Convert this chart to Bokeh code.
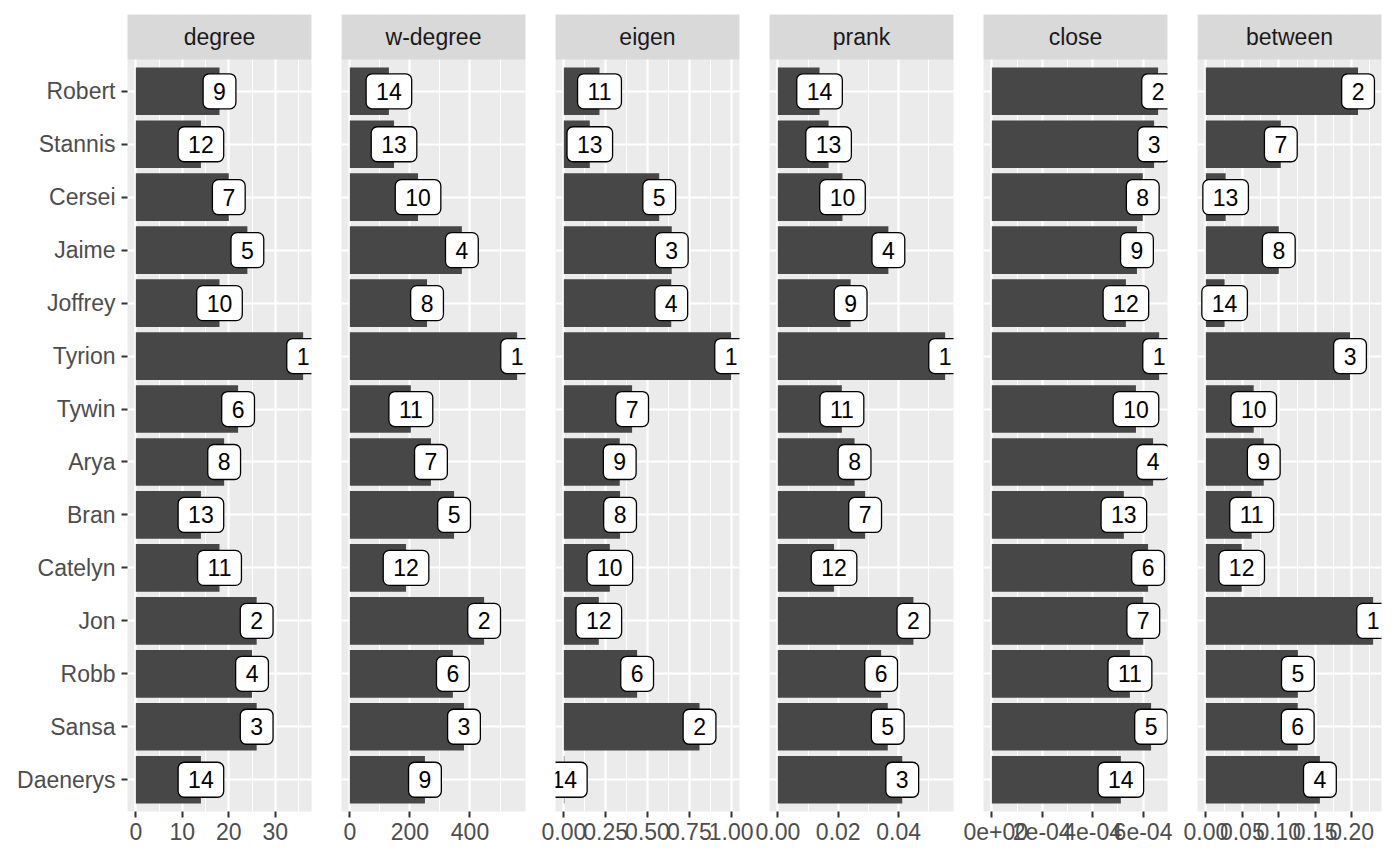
import numpy as np
from bokeh.plotting import figure
from bokeh.layouts import row
from bokeh.models import Range1d, FixedTicker
from bokeh.core.properties import value
from bokeh.embed import file_html
from bokeh.resources import INLINE

# ---------------- data ----------------
characters = ["Robert", "Stannis", "Cersei", "Jaime", "Joffrey", "Tyrion", "Tywin",
              "Arya", "Bran", "Catelyn", "Jon", "Robb", "Sansa", "Daenerys"]
panel_names = ["degree", "w-degree", "eigen", "prank", "close", "between"]

degree = [18, 14, 20, 24, 18, 36, 22, 19, 14, 18, 26, 25, 26, 14]
degree_rank = [9, 12, 7, 5, 10, 1, 6, 8, 13, 11, 2, 4, 3, 14]

wdegree = [130, 147, 227, 373, 257, 557, 203, 270, 347, 187, 447, 343, 380, 250]
wdegree_rank = [14, 13, 10, 4, 8, 1, 11, 7, 5, 12, 2, 6, 3, 9]

eigen = [0.213, 0.155, 0.570, 0.645, 0.642, 1.0, 0.408, 0.334, 0.336, 0.275, 0.209, 0.438, 0.811, 0.003]
eigen_rank = [11, 13, 5, 3, 4, 1, 7, 9, 8, 10, 12, 6, 2, 14]

prank = [0.0138, 0.0168, 0.0214, 0.0366, 0.0241, 0.0554, 0.0212, 0.0254, 0.0289, 0.0186,
         0.0449, 0.0342, 0.0364, 0.0412]
prank_rank = [14, 13, 10, 4, 9, 1, 11, 8, 7, 12, 2, 6, 5, 3]

close = [6.60e-4, 6.44e-4, 5.99e-4, 5.76e-4, 5.32e-4, 6.64e-4, 5.72e-4, 6.40e-4, 5.24e-4,
         6.20e-4, 6.01e-4, 5.48e-4, 6.32e-4, 5.12e-4]
close_rank = [2, 3, 8, 9, 12, 1, 10, 4, 13, 6, 7, 11, 5, 14]

between = [0.2087, 0.1028, 0.0271, 0.1000, 0.0257, 0.1977, 0.0656, 0.0794, 0.0628, 0.0491,
           0.2294, 0.1262, 0.1260, 0.1564]
between_rank = [2, 7, 13, 8, 14, 3, 10, 9, 11, 12, 1, 5, 6, 4]

degree_ticks = [0, 10, 20, 30]
degree_labels = ["0", "10", "20", "30"]
wdegree_ticks = [0, 200, 400]
wdegree_labels = ["0", "200", "400"]
eigen_ticks = [0.0, 0.25, 0.5, 0.75, 1.0]
eigen_labels = ["0.00", "0.25", "0.50", "0.75", "1.00"]
prank_ticks = [0.0, 0.02, 0.04]
prank_labels = ["0.00", "0.02", "0.04"]
close_ticks = [0.0, 2e-4, 4e-4, 6e-4]
close_labels = ["0e+00", "2e-04", "4e-04", "6e-04"]
between_ticks = [0.0, 0.05, 0.10, 0.15, 0.20]
between_labels = ["0.00", "0.05", "0.10", "0.15", "0.20"]

panels = [
    (panel_names[0], degree, degree_rank, degree_ticks, degree_labels),
    (panel_names[1], wdegree, wdegree_rank, wdegree_ticks, wdegree_labels),
    (panel_names[2], eigen, eigen_rank, eigen_ticks, eigen_labels),
    (panel_names[3], prank, prank_rank, prank_ticks, prank_labels),
    (panel_names[4], close, close_rank, close_ticks, close_labels),
    (panel_names[5], between, between_rank, between_ticks, between_labels),
]

# ---------------- style ----------------
FONT = "Liberation Sans"
PANEL_BG = "#EBEBEB"
STRIP_BG = "#D9D9D9"
BAR = "#474747"
AXIS_TXT = "#4D4D4D"
TICK = "#333333"
FS = "23px"

n = len(characters)
pos = list(range(1, n + 1))
Y_BOTTOM = n + 0.6
Y_PANEL_TOP = 0.4
STRIP_H = 0.85
Y_TOP = Y_PANEL_TOP - STRIP_H

borders_left = [127, 15, 18, 16, 20, 16]
borders_right = [15, 12, 14, 10, 14, 13]

figs = []
for i, (name, vals, ranks, ticks, labels) in enumerate(panels):
    m = max(vals)
    x0, x1 = -0.05 * m, 1.05 * m
    first = i == 0
    p = figure(frame_width=184, frame_height=797,
               x_range=Range1d(x0, x1), y_range=Range1d(Y_BOTTOM, Y_TOP),
               output_backend="svg", toolbar_location=None,
               y_axis_location="left" if first else None,
               min_border_left=borders_left[i], min_border_right=borders_right[i],
               min_border_top=14, min_border_bottom=50)
    p.background_fill_color = PANEL_BG
    p.border_fill_color = "white"
    p.outline_line_color = None

    step = ticks[1] - ticks[0]
    minor = [t + step / 2 for t in [ticks[0] - step] + ticks]
    minor = [t for t in minor if x0 <= t <= x1]

    p.xaxis.ticker = FixedTicker(ticks=ticks, minor_ticks=minor)
    p.xaxis.major_label_overrides = {t: l for t, l in zip(ticks, labels)}
    p.xaxis.axis_line_color = None
    p.xaxis.major_tick_line_color = TICK
    p.xaxis.major_tick_line_width = 2
    p.xaxis.major_tick_out = 6
    p.xaxis.major_tick_in = 0
    p.xaxis.minor_tick_line_color = None
    p.xaxis.major_label_text_font = FONT
    p.xaxis.major_label_text_font_size = FS
    p.xaxis.major_label_text_color = AXIS_TXT
    p.xaxis.major_label_standoff = 5

    p.xgrid.grid_line_color = "white"
    p.xgrid.grid_line_width = 2.2
    p.xgrid.minor_grid_line_color = "white"
    p.xgrid.minor_grid_line_width = 1.1

    if first:
        p.yaxis.ticker = FixedTicker(ticks=pos)
        p.yaxis.major_label_overrides = {k: c for k, c in zip(pos, characters)}
        p.yaxis.axis_line_color = None
        p.yaxis.major_tick_line_color = TICK
        p.yaxis.major_tick_line_width = 2
        p.yaxis.major_tick_out = 6
        p.yaxis.major_tick_in = 0
        p.yaxis.minor_tick_line_color = None
        p.yaxis.major_label_text_font = FONT
        p.yaxis.major_label_text_font_size = FS
        p.yaxis.major_label_text_color = AXIS_TXT
        p.yaxis.major_label_standoff = 6
    p.ygrid.ticker = FixedTicker(ticks=pos)
    p.ygrid.grid_line_color = "white"
    p.ygrid.grid_line_width = 2.2

    p.hbar(y=pos, left=0, right=vals, height=0.9, fill_color=BAR, line_color=None)

    p.text(x=vals, y=pos, text=[str(r) for r in ranks],
           text_align="center", text_baseline="middle",
           text_font=value(FONT), text_font_size=FS, text_color="black",
           background_fill_color="white", border_line_color="black",
           border_line_width=1.3, padding=dict(left=10, right=10, top=9, bottom=9),
           border_radius=6)

    # facet strip
    p.quad(left=[x0], right=[x1], bottom=[Y_PANEL_TOP], top=[Y_TOP],
           fill_color=STRIP_BG, line_color=None)
    p.text(x=[(x0 + x1) / 2], y=[(Y_PANEL_TOP + Y_TOP) / 2], text=[name],
           text_align="center", text_baseline="middle",
           text_font=value(FONT), text_font_size=FS, text_color="#1A1A1A")
    figs.append(p)

layout = row(*figs, spacing=0)
open("out.html", "w").write(file_html(layout, INLINE))
